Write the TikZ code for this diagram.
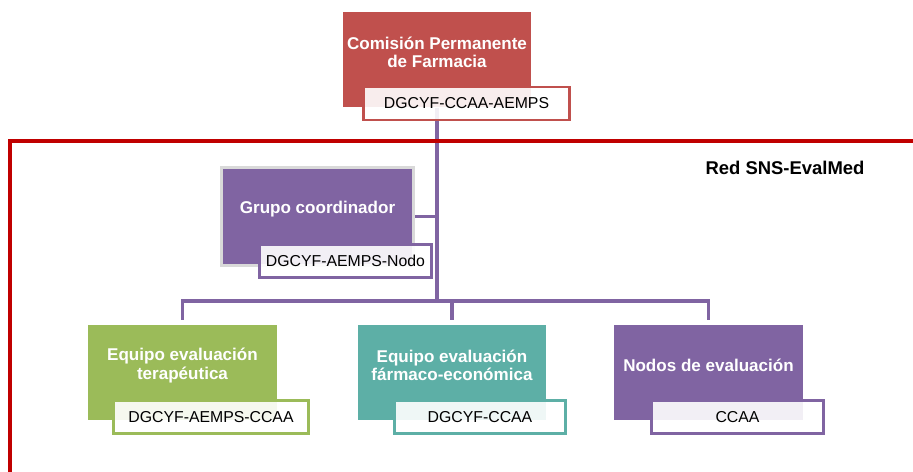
\documentclass[tikz,border=0pt]{standalone}
\usepackage{fontspec}
\setmainfont{Liberation Sans}
\usepackage{tikz}
\usetikzlibrary{backgrounds}
\definecolor{rojo}{RGB}{192,80,77}
\definecolor{verde}{RGB}{155,187,89}
\definecolor{turquesa}{RGB}{93,175,166}
\definecolor{morado}{RGB}{128,100,162}
\definecolor{marco}{RGB}{192,0,0}
\definecolor{sombra}{RGB}{217,217,217}
\tikzset{
	caja/.style={minimum width=3.78cm, minimum height=1.92cm, inner sep=0pt},
	etiqueta/.style={draw=#1, line width=1.5pt, fill=white, fill opacity=0.9, text opacity=1,
		minimum height=0.66cm, inner sep=0pt, font=\fontsize{9}{11}\selectfont},
	titulo/.style={text=white, align=center, yshift=0.14cm, font=\fontsize{9.7}{10.5}\selectfont\bfseries},
	enlace/.style={draw=morado, line width=1.8pt},
	linea marco/.style={draw=marco, line width=1.8pt}
}

\begin{document}
\begin{tikzpicture}[x=0.02cm, y=-0.02cm]
			\useasboundingbox (0,0) rectangle (913,472);
			\coordinate (marcoA) at (10,472);
			\coordinate (marcoB) at (913,141);
			\draw[linea marco] (marcoA) |- (marcoB);
			\node[font=\fontsize{10.5}{12}\selectfont\bfseries] (red) at (785,168) {Red SNS-EvalMed};
			\node[caja, fill=rojo] (cpf) at (437,59.5) {};
			\node[titulo] (cpftxt) at (cpf) {Comisión Permanente\\de Farmacia};
			\node[etiqueta=rojo, minimum width=4.12cm] (cpflab) at (466.5,103.5) {DGCYF-CCAA-AEMPS};
			\node[caja, fill=morado, draw=sombra, line width=0.06cm, minimum width=3.84cm, minimum height=1.98cm] (grp) at (317.5,216.5) {};
			\node[titulo] (grptxt) at (grp) {Grupo coordinador};
			\node[etiqueta=morado, minimum width=3.44cm] (grplab) at (345.5,261) {DGCYF-AEMPS-Nodo};
			\node[caja, fill=verde] (eqt) at (182.5,372.5) {};
			\node[titulo] (eqttxt) at (eqt) {Equipo evaluación\\terapéutica};
			\node[etiqueta=verde, minimum width=3.90cm] (eqtlab) at (211,417) {DGCYF-AEMPS-CCAA};
			\node[caja, fill=turquesa] (efe) at (452,372.5) {};
			\node[titulo] (efetxt) at (efe) {Equipo evaluación\\fármaco-económica};
			\node[etiqueta=turquesa, minimum width=3.42cm] (efelab) at (480,417) {DGCYF-CCAA};
			\node[caja, fill=morado] (nod) at (708.5,372.5) {};
			\node[titulo] (nodtxt) at (nod) {Nodos de evaluación};
			\node[etiqueta=morado, minimum width=3.44cm] (nodlab) at (737.5,417) {CCAA};
			\begin{scope}[on background layer]
				\coordinate (bus) at (437,301);
				\draw[enlace] (cpf.south) -- (bus);
				\draw[enlace] (grp.east) -- (grp.east -| cpf.south);
				\draw[enlace, shorten >=0.08cm] (bus) -| (eqt.north);
				\draw[enlace, shorten >=0.08cm] (bus) -| (efe.north);
				\draw[enlace, shorten >=0.08cm] (bus) -| (nod.north);
			\end{scope}
		\end{tikzpicture}
\end{document}
